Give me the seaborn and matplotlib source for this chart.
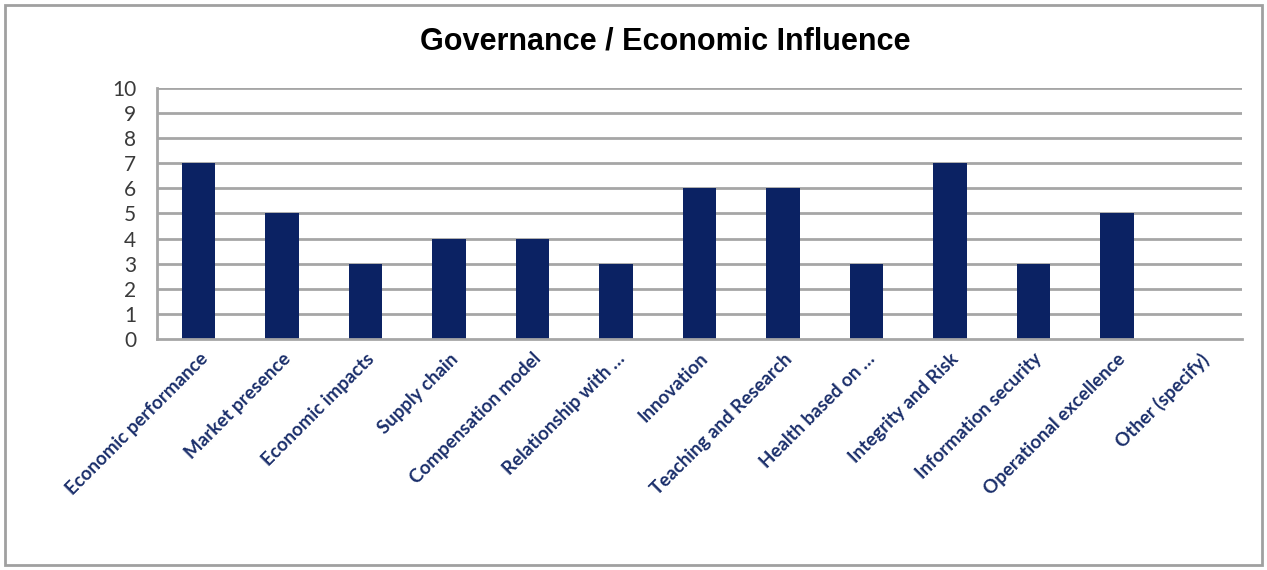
import matplotlib
matplotlib.use("Agg")
import matplotlib.pyplot as plt
from matplotlib.patches import Rectangle
import seaborn as sns
import pandas as pd
import numpy as np

categories = [
    "Economic performance", "Market presence", "Economic impacts", "Supply chain",
    "Compensation model", "Relationship with \u2026", "Innovation", "Teaching and Research",
    "Health based on \u2026", "Integrity and Risk", "Information security",
    "Operational excellence", "Other (specify)",
]
counts = [7, 5, 3, 4, 4, 3, 6, 6, 3, 7, 3, 5, 0]
y_ticks = list(range(0, 11))

sns.set_theme(style="white")
plt.rcParams["font.family"] = ["Lato", "DejaVu Sans"]

df = pd.DataFrame({"category": categories, "count": counts})

fig = plt.figure(figsize=(12.67, 5.70), dpi=100)
ax = fig.add_axes([0.1239, 0.4053, 0.9803 - 0.1239, 0.8456 - 0.4053])

navy = "#0B2263"
grid_c = "#A6A6A6"

sns.barplot(data=df, x="category", y="count", color=navy, width=0.4,
            saturation=1, linewidth=0, ax=ax, zorder=3)

ax.set_ylim(0, 10)
ax.set_xlim(-0.5, len(categories) - 0.5)
ax.set_yticks(y_ticks)
ax.set_yticklabels([str(t) for t in y_ticks], fontsize=15, color="#3A3A3A")
for t in y_ticks[1:]:
    ax.axhline(t, color=grid_c, lw=2, zorder=1)

# category boundary ticks on the x axis
ax.set_xticks(np.arange(len(categories)))
ax.set_xticklabels(categories, rotation=45, ha="right", rotation_mode="anchor",
                   fontsize=13.5, fontweight="bold", color="#1B2F6B")
ax.set_xticks(np.arange(-0.5, len(categories)), minor=True)
ax.tick_params(axis="x", which="major", length=0, pad=8)
ax.tick_params(axis="x", which="minor", length=6, width=1.5, color=grid_c, direction="out")
ax.tick_params(axis="y", length=7, width=1.5, color=grid_c, direction="out", pad=8)

for side in ["top", "right"]:
    ax.spines[side].set_visible(False)
for side in ["left", "bottom"]:
    ax.spines[side].set_color(grid_c)
    ax.spines[side].set_linewidth(2)
    ax.spines[side].set_zorder(4)

ax.set_xlabel("")
ax.set_ylabel("")

fig.text(0.525, 0.928, "Governance / Economic Influence", ha="center", va="center",
         fontsize=22, fontweight="bold", color="black", family=["Liberation Sans", "DejaVu Sans"])

fig.patches.append(Rectangle((0.004, 0.008), 0.992, 0.984, transform=fig.transFigure,
                             fill=False, edgecolor="#A0A0A0", lw=2))

fig.savefig("out.png", dpi=100)
